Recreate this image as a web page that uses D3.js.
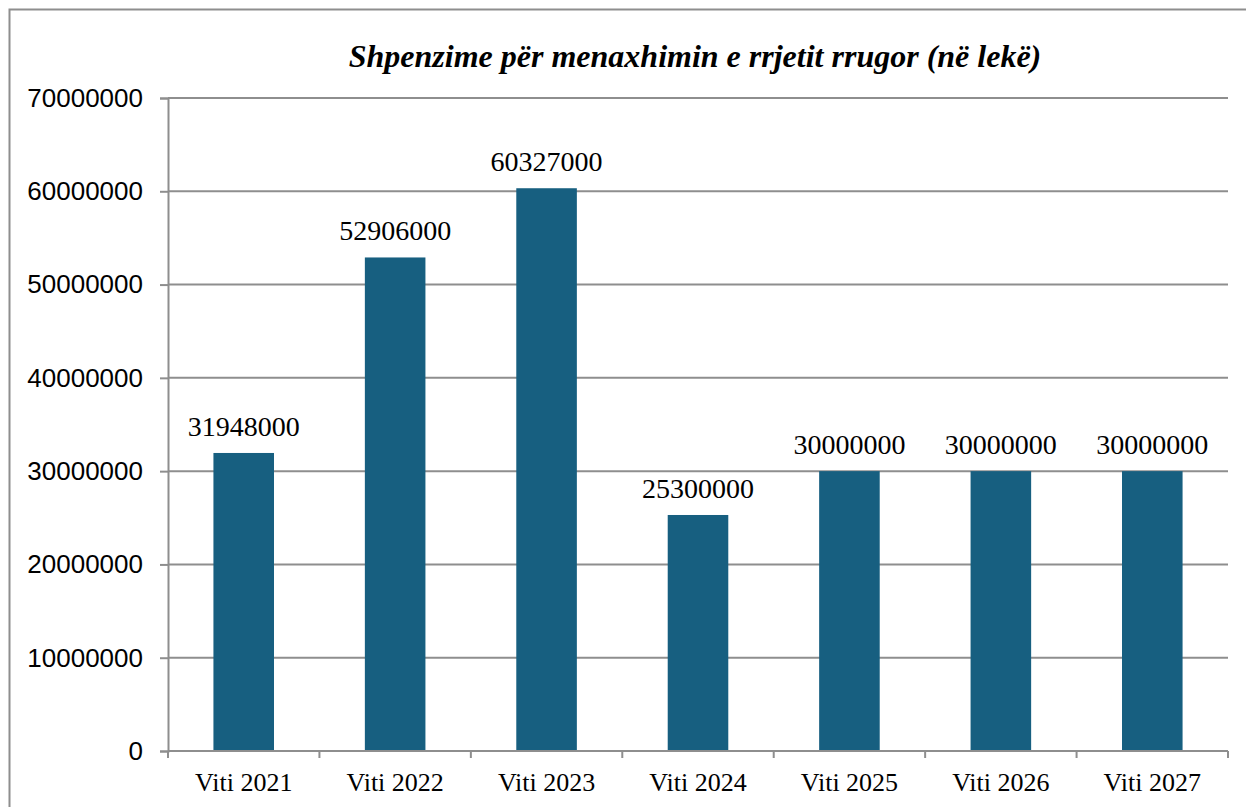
<!DOCTYPE html>
<html>
<head>
<meta charset="utf-8">
<script src="https://cdn.jsdelivr.net/npm/d3@7"></script>
<style>
  html, body { margin: 0; padding: 0; background: #fff; }
  svg { display: block; }
</style>
</head>
<body>
<svg id="chart" width="1246" height="807"></svg>
<script>
// Annual road network management expenditure (lekë)
const categories = ["Viti 2021", "Viti 2022", "Viti 2023", "Viti 2024", "Viti 2025", "Viti 2026", "Viti 2027"];
const values = [31948000, 52906000, 60327000, 25300000, 30000000, 30000000, 30000000];
const yTicks = [0, 10000000, 20000000, 30000000, 40000000, 50000000, 60000000, 70000000];
const title = "Shpenzime për menaxhimin e rrjetit rrugor (në lekë)";

const svg = d3.select("#chart");
const W = 1246, H = 807;
const plot = { left: 168, right: 1228, top: 98, bottom: 751 };
const gridColor = "#8e8e8e";
const barColor = "#175f80";
const serif = "'Liberation Serif', 'Times New Roman', serif";
const sans = "'Liberation Sans', Arial, sans-serif";

// Outer chart frame (runs past the right and bottom edges)
svg.append("rect")
  .attr("x", 9.5).attr("y", 9.5)
  .attr("width", W + 20).attr("height", H + 20)
  .attr("fill", "none").attr("stroke", gridColor).attr("stroke-width", 2);

const x = d3.scaleBand().domain(categories).range([plot.left, plot.right]).paddingInner(0.6).paddingOuter(0.3);
const y = d3.scaleLinear().domain([0, 70000000]).range([plot.bottom, plot.top]);

// Horizontal gridlines
svg.append("g").selectAll("line").data(yTicks.filter(d => d > 0)).join("line")
  .attr("x1", plot.left).attr("x2", plot.right)
  .attr("y1", d => y(d)).attr("y2", d => y(d))
  .attr("stroke", gridColor).attr("stroke-width", 2);

// Y axis
const yAxis = svg.append("g").attr("transform", `translate(${plot.left},0)`)
  .call(d3.axisLeft(y).tickValues(yTicks).tickFormat(d3.format("d")).tickSize(8).tickPadding(17));
yAxis.select(".domain").attr("stroke", gridColor).attr("stroke-width", 2);
yAxis.selectAll(".tick line").attr("stroke", gridColor).attr("stroke-width", 2);
yAxis.selectAll(".tick text")
  .attr("font-family", sans)
  .attr("font-size", 26).attr("fill", "#000");

// Bars
svg.append("g").selectAll("rect").data(values).join("rect")
  .attr("x", (d, i) => x(categories[i]))
  .attr("width", x.bandwidth())
  .attr("y", d => y(d))
  .attr("height", d => y(0) - y(d))
  .attr("fill", barColor);

// X axis with ticks between categories
const boundaries = d3.range(categories.length + 1).map(i => plot.left + i * (plot.right - plot.left) / categories.length);
svg.append("line")
  .attr("x1", plot.left).attr("x2", plot.right)
  .attr("y1", plot.bottom).attr("y2", plot.bottom)
  .attr("stroke", gridColor).attr("stroke-width", 2);
svg.append("g").selectAll("line").data(boundaries).join("line")
  .attr("x1", d => d).attr("x2", d => d)
  .attr("y1", plot.bottom).attr("y2", plot.bottom + 7)
  .attr("stroke", gridColor).attr("stroke-width", 2);

svg.append("g").selectAll("text").data(categories).join("text")
  .attr("x", d => x(d) + x.bandwidth() / 2)
  .attr("y", 791)
  .attr("text-anchor", "middle")
  .attr("font-family", serif)
  .attr("font-size", 26).attr("fill", "#000")
  .text(d => d);

// Value labels
svg.append("g").selectAll("text").data(values).join("text")
  .attr("x", (d, i) => x(categories[i]) + x.bandwidth() / 2)
  .attr("y", d => y(d) - 17)
  .attr("text-anchor", "middle")
  .attr("font-family", serif)
  .attr("font-size", 28).attr("fill", "#000")
  .text(d => d);

// Title
svg.append("text")
  .attr("x", (plot.left + plot.right) / 2 - 3)
  .attr("y", 67)
  .attr("text-anchor", "middle")
  .attr("font-family", serif)
  .attr("font-size", 32).attr("font-weight", "bold").attr("font-style", "italic")
  .attr("fill", "#000")
  .text(title);
</script>
</body>
</html>
